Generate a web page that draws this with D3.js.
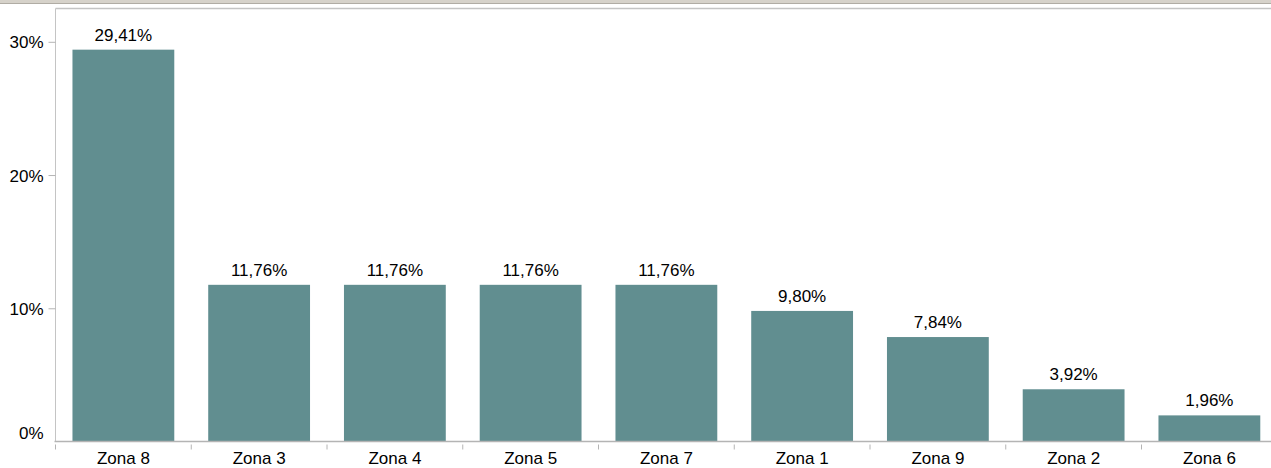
<!DOCTYPE html>
<html><head><meta charset="utf-8">
<script src="https://cdn.jsdelivr.net/npm/d3@7"></script>
<style>body{margin:0;background:#fff;overflow:hidden}svg{display:block;font-family:"Liberation Sans",Arial,sans-serif}</style>
</head><body>
<script>
const categories = ["Zona 8","Zona 3","Zona 4","Zona 5","Zona 7","Zona 1","Zona 9","Zona 2","Zona 6"];
const values = [29.41,11.76,11.76,11.76,11.76,9.80,7.84,3.92,1.96];
const yTicks = [0,10,20,30];

(function(){
const W=1271,H=468;
const FS=17;
const svg=d3.select("body").append("svg").attr("width",W).attr("height",H);
const mLeft=55.5, mTop=8.5, mBottom=441.5;
const x=d3.scaleBand().domain(categories).range([mLeft,mLeft+9*135.75]).paddingInner(0.25).paddingOuter(0.125);
const y=d3.scaleLinear().domain([0,32.5]).range([mBottom,mTop]);

// top chrome band
svg.append("rect").attr("x",0).attr("y",0).attr("width",W).attr("height",3).attr("fill","#d6d2ca");
svg.append("line").attr("x1",0).attr("x2",W).attr("y1",3.5).attr("y2",3.5).attr("stroke","#b0aca4");
svg.append("line").attr("x1",mLeft).attr("x2",W).attr("y1",mTop).attr("y2",mTop).attr("stroke","#c4c4c4").attr("stroke-width",1.5);

// bars
svg.selectAll("rect.bar").data(values).join("rect").attr("class","bar")
 .attr("x",(d,i)=>x(categories[i])).attr("width",x.bandwidth())
 .attr("y",d=>y(d)).attr("height",d=>mBottom-y(d)).attr("fill","#618e90");

// value labels
svg.selectAll("text.val").data(values).join("text").attr("class","val")
 .attr("x",(d,i)=>x(categories[i])+x.bandwidth()/2).attr("y",d=>y(d)-9)
 .attr("text-anchor","middle").attr("font-size",FS).attr("fill","#000")
 .text(d=>d.toFixed(2).replace(".",",")+"%");

// y axis
const ya=svg.append("g").attr("transform",`translate(${mLeft},0)`)
 .call(d3.axisLeft(y).tickValues(yTicks).tickSize(7).tickPadding(5).tickFormat(d=>d+"%"));
ya.select(".domain").attr("stroke","#c4c4c4").attr("d",`M0,${mTop}V${mBottom}`);
ya.selectAll(".tick line").attr("stroke","#b4b4b4");
ya.selectAll(".tick text").attr("font-size",FS).attr("fill","#000").attr("font-family","Liberation Sans, Arial, sans-serif").attr("dy","6px");
ya.selectAll(".tick").filter(d=>d===0).select("line").remove();
ya.selectAll(".tick").filter(d=>d===0).select("text").attr("dy","-3.5px");

// x axis
svg.append("line").attr("x1",mLeft-1).attr("x2",W).attr("y1",mBottom).attr("y2",mBottom).attr("stroke","#b4b4b4").attr("stroke-width",1.5);
const step=x.step();
const xa=svg.append("g").attr("transform",`translate(0,${mBottom})`);
xa.selectAll("line").data(categories).join("line")
 .attr("x1",(d,i)=>mLeft+i*step).attr("x2",(d,i)=>mLeft+i*step).attr("y1",3).attr("y2",8).attr("stroke","#b4b4b4");
xa.selectAll("text").data(categories).join("text")
 .attr("x",d=>x(d)+x.bandwidth()/2).attr("y",22.5).attr("text-anchor","middle").attr("font-size",FS).attr("fill","#000").text(d=>d);
})();
</script>
</body></html>
